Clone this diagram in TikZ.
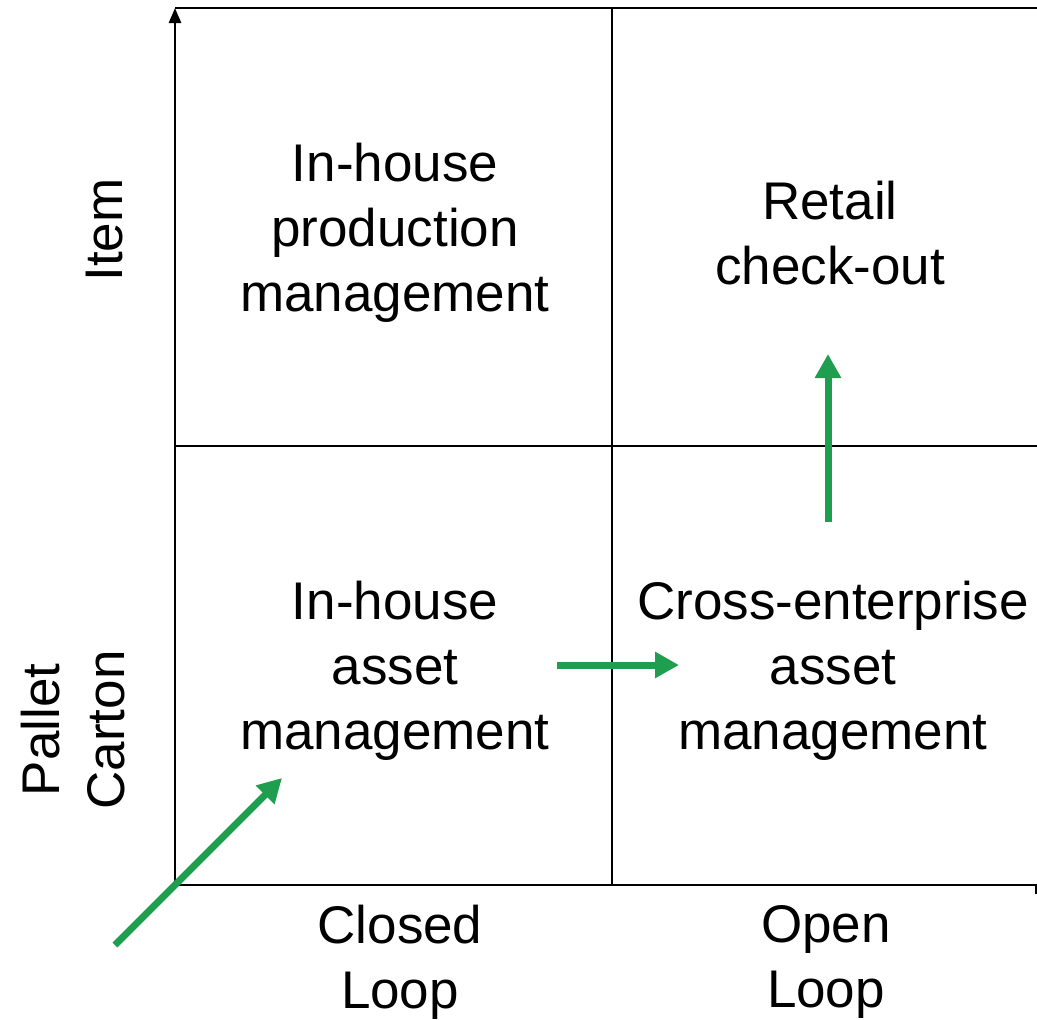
\documentclass[tikz,border=0pt]{standalone}
\usepackage{fontspec}
\setmainfont{Liberation Sans}
\usepackage{tikz}
\usetikzlibrary{arrows.meta}
\usetikzlibrary{positioning}
\definecolor{flowgreen}{RGB}{31,158,80}
\tikzset{cell/.style={align=center, inner sep=0pt, font=\fontsize{53}{65}\selectfont},
axislbl/.style={cell},
grid/.style={color=black, line width=2.5pt},
flow/.style={color=flowgreen, line width=7pt, -{Triangle[length=24pt,width=25pt]}},
>={Triangle[length=15pt,width=12pt]}}
\begin{document}
\begin{tikzpicture}[x=1pt,y=-1pt]
  \useasboundingbox (0,0) rectangle (1037,1020);

  \coordinate (tl) at (175,8);
  \coordinate (tm) at (612,8);
  \coordinate (tr) at (1037,8);
  \coordinate (ml) at (175,446);
  \coordinate (mr) at (1037,446);
  \coordinate (bl) at (175,885);
  \coordinate (bm) at (612,885);
  \coordinate (br) at (1036,885);
  \coordinate (brt) at (1036,894);

  \draw [grid,->] (bl) -- (tl);
  \draw [grid] (tl) -- (tr);
  \draw [grid] (ml) -- (mr);
  \draw [grid] (tm) -- (bm);
  \draw [grid] (bl) -- (br) -- (brt);

  \node (prod) [cell] at (395,233) {In-house\\production\\management};
  \node (retail) [cell] at (830,233) {Retail\\check-out};
  \node (asset) [cell] at (395,671) {In-house\\asset\\management};
  \node (cross) [cell] at (833,671) {Cross-enterprise\\asset\\management};

  \node (closed) [axislbl] at (400,962) {Closed\\Loop};
  \node (open) [axislbl] at (826,962) {Open\\Loop};
  \node (item) [axislbl, rotate=90] at (105,230) {Item};
  \node (pallet) [axislbl, rotate=90] at (73,730) {Pallet\\Carton};

  \coordinate (start) at (115,945);
  \coordinate (into) at (282,778);
  \coordinate (hfrom) at (557,665);
  \coordinate (hto) at (679,665);
  \coordinate (vfrom) at (828,522);
  \coordinate (vto) at (828,354);
  \draw [flow] (start) -- (into);
  \draw [flow] (hfrom) -- (hto);
  \draw [flow] (vfrom) -- (vto);
\end{tikzpicture}
\end{document}
